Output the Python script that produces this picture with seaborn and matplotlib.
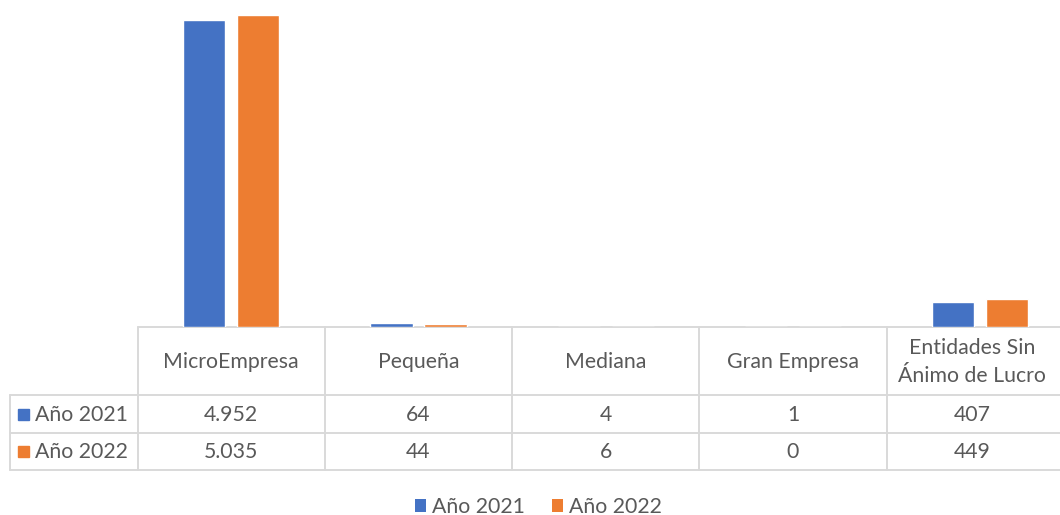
import numpy as np
import pandas as pd
import matplotlib
matplotlib.use("Agg")
import matplotlib.pyplot as plt
import seaborn as sns
from matplotlib.patches import Patch

# ============ Data ============
categories = ["MicroEmpresa", "Pequeña", "Mediana", "Gran Empresa", "Entidades Sin\nÁnimo de Lucro"]
series_names = ["Año 2021", "Año 2022"]
values_2021 = [4952, 64, 4, 1, 407]
values_2022 = [5035, 44, 6, 0, 449]

colors = ["#4472C4", "#ED7D31"]
text_color = "#595959"
grid_color = "#D9D9D9"

df = pd.DataFrame({
    "Categoria": categories * 2,
    "Serie": [series_names[0]] * 5 + [series_names[1]] * 5,
    "Valor": values_2021 + values_2022,
})

sns.set_style("white")
plt.rcParams["font.family"] = ["Lato", "DejaVu Sans"]

W, H = 1060, 515
fig = plt.figure(figsize=(W / 100, H / 100), dpi=100)

# plot area in pixel coordinates (runs a bit past the right edge, like the original)
col_w = 187.3
ax_left, ax_top, ax_base = 137.5, 0, 327
ax_right = ax_left + col_w * len(categories)
ax = fig.add_axes([ax_left / W, 1 - ax_base / H, (ax_right - ax_left) / W, (ax_base - ax_top) / H])

sns.barplot(data=df, x="Categoria", y="Valor", hue="Serie", palette=colors,
            width=0.577, gap=0.22, ax=ax, legend=False, saturation=1)
ax.set_xlim(-0.5, 4.5)
ax.set_ylim(0, 5035 * 327 / 312)
ax.set_axis_off()

# ============ Data table ============
ov = fig.add_axes([0, 0, 1, 1], zorder=-1)
ov.set_xlim(0, W)
ov.set_ylim(H, 0)
ov.set_axis_off()

col_edges = [ax_left + i * col_w for i in range(len(categories) + 1)]
row_edges = [327, 395, 433, 470]
table_left = 10

lw = 1.4
ov.plot([ax_left, W], [row_edges[0]] * 2, color=grid_color, lw=lw)
for y in row_edges[1:]:
    ov.plot([table_left, W], [y, y], color=grid_color, lw=lw)
for x in col_edges[:-1]:
    ov.plot([x, x], [row_edges[0], row_edges[-1]], color=grid_color, lw=lw)
ov.plot([table_left, table_left], [row_edges[1], row_edges[-1]], color=grid_color, lw=lw)

fs = 15.3
last_right = 1058
for i, cat in enumerate(categories):
    right = min(col_edges[i + 1], last_right)
    cx = (col_edges[i] + right) / 2
    ov.text(cx, (row_edges[0] + row_edges[1]) / 2 + 1, cat, ha="center", va="center",
            color=text_color, fontsize=fs, linespacing=1.45)
    for r, vals in enumerate([values_2021, values_2022]):
        txt = f"{vals[i]:,}".replace(",", ".")
        ov.text(cx, (row_edges[r + 1] + row_edges[r + 2]) / 2 + 1, txt, ha="center", va="center",
                color=text_color, fontsize=fs)

for r, name in enumerate(series_names):
    yc = (row_edges[r + 1] + row_edges[r + 2]) / 2
    ov.add_patch(plt.Rectangle((18, yc - 5.5), 11, 11, color=colors[r]))
    ov.text(35, yc + 1, name, ha="left", va="center", color=text_color, fontsize=fs)

# ============ Legend ============
handles = [Patch(facecolor=c, edgecolor="none") for c in colors]
fig.legend(handles, series_names, loc="center", bbox_to_anchor=(0.508, 1 - 507 / H),
           ncol=2, frameon=False, fontsize=fs, labelcolor=text_color,
           handlelength=0.52, handleheight=0.52, handletextpad=0.3, columnspacing=1.27)

fig.savefig("out.png", dpi=100)
